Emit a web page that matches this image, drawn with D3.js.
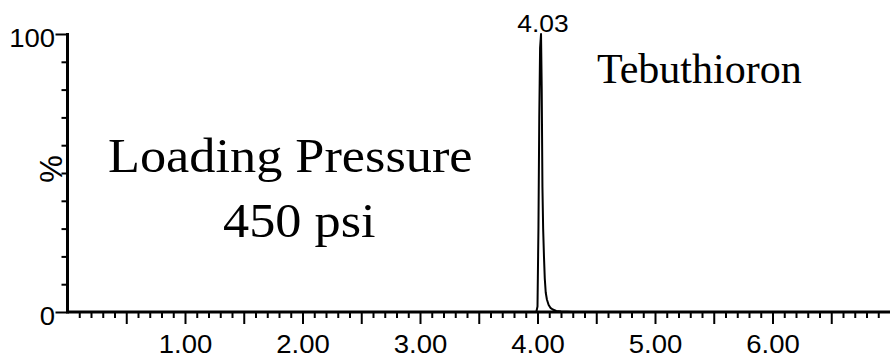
<!DOCTYPE html>
<html>
<head>
<meta charset="utf-8">
<script src="https://cdn.jsdelivr.net/npm/d3@7"></script>
<style>
  html, body { margin: 0; padding: 0; background: #fff; }
  svg { display: block; }
</style>
</head>
<body>
<svg id="chart" width="892" height="357"></svg>
<script>
// ---- data ----
const retentionTimes = [0, 3.990, 4.000, 4.008, 4.015, 4.022, 4.030, 4.036, 4.042, 4.048, 4.055, 4.062, 4.070, 4.080, 4.095, 4.110, 4.130, 4.160, 4.200, 4.300, 7.0];
const intensities    = [0, 0,     2,     30,    70,    95,    100,   80,    45,    30,    20,    12,    7,     4.5,   2.5,   1.5,   0.9,   0.4,   0.15,  0,     0];
const xLabelValues = [1, 2, 3, 4, 5, 6];
const yLabelValues = [0, 100];
const peakLabel = { time: 4.03, text: "4.03" };
const compoundName = "Tebuthioron";
const conditionLines = ["Loading Pressure", "450 psi"];
const yAxisTitle = "%";

const svg = d3.select("#chart");
const x = d3.scaleLinear().domain([0, 7]).range([67.5, 890]);
const y = d3.scaleLinear().domain([0, 100]).range([312, 34]);

const sans = "'Liberation Sans', Arial, sans-serif";
const serif = "'Liberation Serif', 'Times New Roman', serif";
const stretch = 1.1;

// ---- x axis ----
const xMinor = d3.range(1, 70).map(i => i / 10).filter(v => Math.round(v * 10) % 5 !== 0);
const xMajor = d3.range(1, 14).map(i => i / 2);

svg.append("g").attr("transform", `translate(0,${y(0)})`)
  .call(d3.axisBottom(x).tickValues(xMinor).tickSize(6).tickFormat(""))
  .call(g => g.select(".domain").remove())
  .call(g => g.selectAll("line").attr("stroke", "#000").attr("stroke-width", 2));

svg.append("g").attr("transform", `translate(0,${y(0)})`)
  .call(d3.axisBottom(x).tickValues(xMajor).tickSize(12).tickFormat(""))
  .call(g => g.select(".domain").remove())
  .call(g => g.selectAll("line").attr("stroke", "#000").attr("stroke-width", 2));

svg.append("g").attr("transform", `translate(0,${y(0)})`)
  .call(d3.axisBottom(x).tickValues(xLabelValues).tickSize(0).tickPadding(23).tickFormat(d3.format(".2f")))
  .call(g => g.select(".domain").remove())
  .call(g => g.selectAll("text")
    .attr("fill", "#000")
    .attr("transform", `scale(${stretch},1)`)
    .style("font-family", sans).style("font-size", "25px"));

// ---- y axis ----
svg.append("g").attr("transform", `translate(${x(0)},0)`)
  .call(d3.axisLeft(y).tickValues(d3.range(10, 100, 10)).tickSize(6).tickFormat(""))
  .call(g => g.select(".domain").remove())
  .call(g => g.selectAll("line").attr("stroke", "#000").attr("stroke-width", 2));

svg.append("g").attr("transform", `translate(${x(0)},0)`)
  .call(d3.axisLeft(y).tickValues(yLabelValues).tickSize(12).tickPadding(0).tickFormat(d3.format("d")))
  .call(g => g.select(".domain").remove())
  .call(g => g.selectAll("line").attr("stroke", "#000").attr("stroke-width", 2))
  .call(g => g.selectAll("text")
    .attr("fill", "#000")
    .attr("x", 0)
    .attr("dy", "0.5em")
    .attr("transform", `translate(-12.5,0) scale(${stretch},1)`)
    .style("font-family", sans).style("font-size", "25px"));

// axis lines
svg.append("line").attr("x1", x(0)).attr("x2", x(0)).attr("y1", y(100) - 1).attr("y2", y(0) + 1.5)
  .attr("stroke", "#000").attr("stroke-width", 3);
svg.append("line").attr("x1", x(0)).attr("x2", x(7)).attr("y1", y(0)).attr("y2", y(0))
  .attr("stroke", "#000").attr("stroke-width", 3);

// y title
svg.append("text")
  .attr("transform", `translate(62,169) rotate(-90)`)
  .attr("text-anchor", "middle")
  .style("font-family", sans).style("font-size", "31px")
  .text(yAxisTitle);

// ---- trace ----
const pts = retentionTimes.map((t, i) => [t, intensities[i]]);
svg.append("path")
  .datum(pts)
  .attr("fill", "none")
  .attr("stroke", "#000")
  .attr("stroke-width", 2)
  .attr("stroke-linejoin", "round")
  .attr("d", d3.line().x(d => x(d[0])).y(d => y(d[1])));

// peak label
svg.append("text")
  .attr("transform", `translate(${x(peakLabel.time) + 2},32) scale(${stretch},1)`)
  .attr("text-anchor", "middle")
  .style("font-family", sans).style("font-size", "24px")
  .text(peakLabel.text);

// annotations
svg.append("text")
  .attr("x", 597).attr("y", 83)
  .style("font-family", serif).style("font-size", "42px")
  .text(compoundName);

svg.append("text")
  .attr("transform", `translate(108,172) scale(1.09,1)`)
  .style("font-family", serif).style("font-size", "48px")
  .text(conditionLines[0]);
svg.append("text")
  .attr("transform", `translate(223,237) scale(1.09,1)`)
  .style("font-family", serif).style("font-size", "48px")
  .text(conditionLines[1]);
</script>
</body>
</html>
